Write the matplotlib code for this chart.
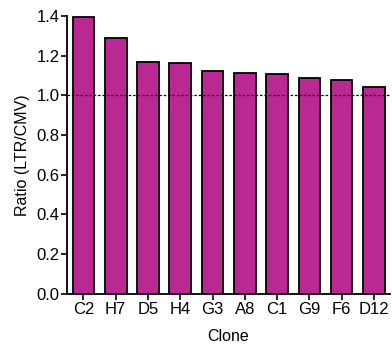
import matplotlib
matplotlib.use("Agg")
import matplotlib.pyplot as plt

clones = ["C2", "H7", "D5", "H4", "G3", "A8", "C1", "G9", "F6", "D12"]
ratio = [1.395, 1.286, 1.168, 1.160, 1.120, 1.110, 1.105, 1.087, 1.076, 1.040]
yticks = [0.0, 0.2, 0.4, 0.6, 0.8, 1.0, 1.2, 1.4]

plt.rcParams['font.family'] = ['Liberation Sans', 'DejaVu Sans']

fig = plt.figure(figsize=(3.92, 3.54), dpi=100)
ax = fig.add_axes([0.170, 0.1695, 0.825, 0.786])

x = list(range(len(clones)))
ax.bar(x, ratio, width=0.67, color='#BA2894', edgecolor='black', linewidth=1.3, zorder=2)
ax.axhline(1.0, color='black', linestyle=(0, (2, 1.5)), linewidth=0.9, zorder=3)

ax.set_xlim(-0.52, 9.5)
ax.set_ylim(0, 1.4)
ax.set_yticks(yticks)
ax.set_yticklabels([f"{t:.1f}" for t in yticks])
ax.set_xticks(x)
ax.set_xticklabels(clones)

ax.tick_params(axis='both', direction='out', length=4, width=1.2, labelsize=12, colors='black', pad=1.5)
ax.tick_params(axis='y', pad=1)
ax.set_ylabel("Ratio (LTR/CMV)", fontsize=11.5, labelpad=5)
ax.set_xlabel("Clone", fontsize=11.5, labelpad=9)

for s in ['top', 'right']:
    ax.spines[s].set_visible(False)
for s in ['left', 'bottom']:
    ax.spines[s].set_linewidth(1.3)

fig.savefig("out.png", dpi=100)
